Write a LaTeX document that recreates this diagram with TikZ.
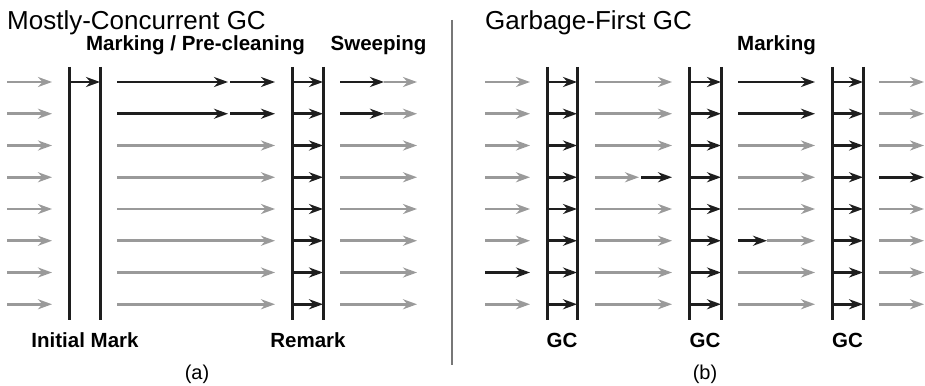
\documentclass[tikz,border=0pt]{standalone}
\usepackage{fontspec}
\setmainfont{Liberation Sans}
\usetikzlibrary{arrows.meta}
\definecolor{inkgray}{HTML}{9A9A9A}
\definecolor{inkblack}{HTML}{1E1E1E}
\definecolor{rulegray}{HTML}{777777}

\begin{document}
\begin{tikzpicture}[x=1pt,y=-1pt,
    bar/.style={draw=inkblack, line width=3pt},
    idle/.style={draw=inkgray, line width=2.8pt, -{Stealth[length=14pt,width=10pt,inset=4.5pt]}},
    busy/.style={idle, draw=inkblack},
    heading/.style={font=\fontsize{26}{30}\selectfont, inner sep=0pt, anchor=base west},
    phase/.style={font=\fontsize{20.5}{25}\selectfont\bfseries, inner sep=0pt, anchor=base},
    caption/.style={font=\fontsize{20}{24}\selectfont, inner sep=0pt, anchor=base}
    ]
    \useasboundingbox (0,0) rectangle (925,385);
    \def\rows{82,113.75,145.5,177.25,209,240.75,272.5,304.25}

    % stops on every row
    \foreach \y[count=\r] in \rows {
        \foreach \x/\n in {7/a,52/b,69/c,100/d,117/e,228/f,230/g,275/h,292/i,323/j,340/k,384/l,417/m,
                           485/A,530/B,547/C,577/D,595/E,639/F,641/G,672/H,689/I,721/J,738/K,767/L,815/M,832/N,863/O,879/P,924/Q}
            \coordinate (\n\r) at (\x,\y);
    }

    % pause bars
    \foreach \x/\n in {69/im1,100/im2,292/rm1,323/rm2,547/gca1,577/gca2,689/gcb1,721/gcb2,832/gcc1,863/gcc2} {
        \coordinate (\n top) at (\x,67);
        \coordinate (\n bot) at (\x,320);
        \draw[bar] (\n top) -- (\n bot);
    }

    % separator
    \coordinate (septop) at (452,20);
    \coordinate (sepbot) at (452,365);
    \draw[draw=rulegray, line width=1.5pt] (septop) -- (sepbot);

    % (a) mostly-concurrent
    \foreach \r in {1,...,8} {
        \draw[idle] (a\r) -- (b\r);
        \draw[busy] (i\r) -- (j\r);
        \ifnum \r < 3
        \draw[busy] (e\r) -- (f\r);
        \draw[busy] (g\r) -- (h\r);
        \draw[busy] (k\r) -- (l\r);
        \draw[idle] (l\r) -- (m\r);
        \else
        \draw[idle] (e\r) -- (h\r);
        \draw[idle] (k\r) -- (m\r);
        \fi
    }
    \draw[busy] (c1) -- (d1);

    % (b) garbage-first
    \foreach \r in {1,...,8} {
        \draw[busy] (C\r) -- (D\r);
        \draw[busy] (I\r) -- (J\r);
        \draw[busy] (N\r) -- (O\r);
        \ifnum \r = 7
        \draw[busy] (A\r) -- (B\r);
        \else
        \draw[idle] (A\r) -- (B\r);
        \fi
        \ifnum \r = 4
        \draw[idle] (E\r) -- (F\r);
        \draw[busy] (G\r) -- (H\r);
        \draw[busy] (P\r) -- (Q\r);
        \else
        \draw[idle] (E\r) -- (H\r);
        \draw[idle] (P\r) -- (Q\r);
        \fi
        \ifnum \r < 3
        \draw[busy] (K\r) -- (M\r);
        \else
        \ifnum \r = 6
        \draw[busy] (K\r) -- (L\r);
        \draw[idle] (L\r) -- (M\r);
        \else
        \draw[idle] (K\r) -- (M\r);
        \fi
        \fi
    }

    % labels
    \node[heading] (mctitle) at (7,30) {Mostly-Concurrent GC};
    \node[heading] (gftitle) at (485,30) {Garbage-First GC};
    \node[phase] (marking) at (195.5,51) {Marking / Pre-cleaning};
    \node[phase] (sweeping) at (378.5,51) {Sweeping};
    \node[phase] (gfmarking) at (776.5,51) {Marking};
    \node[phase] (initmark) at (85,347) {Initial Mark};
    \node[phase] (remark) at (308,347) {Remark};
    \node[phase] (gca) at (562,347) {GC};
    \node[phase] (gcb) at (705,347) {GC};
    \node[phase] (gcc) at (847.5,347) {GC};
    \node[caption] (capa) at (197,379) {(a)};
    \node[caption] (capb) at (705,379) {(b)};
\end{tikzpicture}
\end{document}
